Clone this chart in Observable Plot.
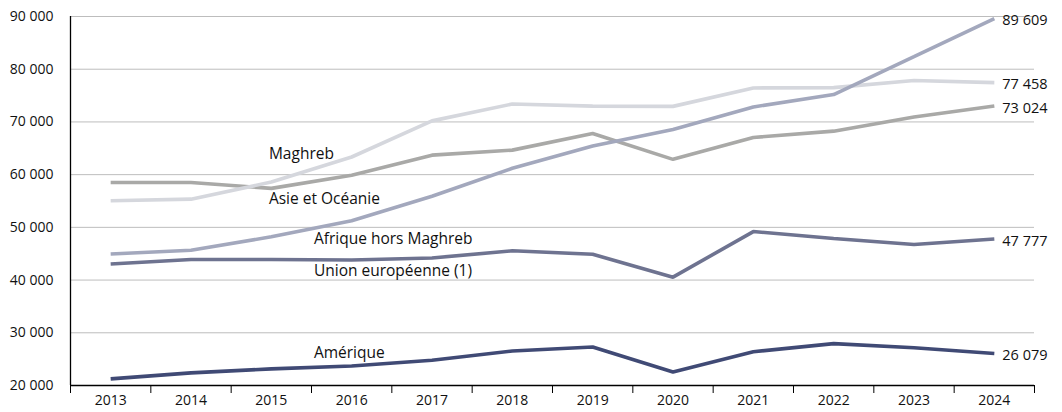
<!DOCTYPE html>
<html>
<head>
<meta charset="utf-8">
<script src="https://cdn.jsdelivr.net/npm/d3@7"></script>
<script src="https://cdn.jsdelivr.net/npm/@observablehq/plot@0.6"></script>
<style>
  html, body { margin: 0; padding: 0; background: #fff; }
  #chart svg { display: block; }
</style>
</head>
<body>
<div id="chart"></div>
<script>
const years = [2013, 2014, 2015, 2016, 2017, 2018, 2019, 2020, 2021, 2022, 2023, 2024];

const seriesNames = ["Maghreb", "Asie et Océanie", "Afrique hors Maghreb", "Union européenne (1)", "Amérique"];

const maghreb      = [58500, 58500, 57400, 59900, 63700, 64650, 67800, 62900, 67050, 68250, 70950, 73024];
const asieOceanie  = [55050, 55350, 58600, 63350, 70200, 73400, 73000, 72950, 76450, 76500, 77850, 77458];
const afriqueHors  = [44950, 45650, 48200, 51250, 55900, 61200, 65450, 68550, 72850, 75200, 82400, 89609];
const unionEuro    = [43050, 43900, 43900, 43800, 44200, 45550, 44900, 40550, 49200, 47900, 46750, 47777];
const amerique     = [21250, 22400, 23150, 23700, 24800, 26550, 27300, 22550, 26400, 27950, 27150, 26079];

const seriesColors = ["#a9a9a7", "#d5d7dd", "#a3a8bd", "#6e7390", "#404a75"];

const yTicks = [20000, 30000, 40000, 50000, 60000, 70000, 80000, 90000];

// label anchors (year, value) for the inline series names
const labelYears  = [2014.97, 2014.97, 2015.53, 2015.53, 2015.53];
const labelValues = [63900, 55400, 47750, 41700, 26250];

const allValues = [maghreb, asieOceanie, afriqueHors, unionEuro, amerique];
const data = [];
seriesNames.forEach((s, i) => years.forEach((y, j) => data.push({series: s, year: y, value: allValues[i][j]})));
const lastPoints = seriesNames.map((s, i) => ({series: s, year: years[years.length - 1], value: allValues[i][years.length - 1]}));
const labels = seriesNames.map((s, i) => ({series: s, year: labelYears[i], value: labelValues[i]}));

const fmt = n => d3.format(",")(n).replace(/,/g, " ");
const font = "'Open Sans', sans-serif";

const chart = Plot.plot({
  width: 1062,
  height: 412,
  marginLeft: 70,
  marginRight: 28,
  marginTop: 16,
  marginBottom: 27,
  style: {fontFamily: font, fontSize: "14px", color: "#111", background: "#fff"},
  x: {domain: [2012.5, 2024.5], label: null},
  y: {domain: [20000, 90000], label: null},
  color: {domain: seriesNames, range: seriesColors},
  marks: [
    Plot.ruleY(yTicks.filter(d => d > 20000), {stroke: "#bdbdbd", strokeWidth: 1}),
    Plot.axisY({ticks: yTicks, tickSize: 0, tickPadding: 17, tickFormat: fmt, fontSize: 14}),
    Plot.axisX({ticks: d3.range(2012.5, 2025, 1), tickSize: 8, tickFormat: () => "", stroke: "#000"}),
    Plot.axisX({ticks: years, tickSize: 0, tickPadding: 10, tickFormat: d => String(d), fontSize: 14}),
    Plot.ruleX([2012.5], {stroke: "#000", strokeWidth: 1.3}),
    Plot.ruleY([20000], {stroke: "#000", strokeWidth: 1.3}),
    Plot.line(data, {x: "year", y: "value", z: "series", stroke: "series", strokeWidth: 3.6, strokeLinejoin: "miter", strokeLinecap: "butt"}),
    Plot.text(lastPoints, {x: "year", y: "value", text: d => fmt(d.value), textAnchor: "start", dx: 8, dy: 2, fontSize: 14.5, fill: "#111"}),
    Plot.text(labels, {x: "year", y: "value", text: "series", textAnchor: "start", fontSize: 15.5, fill: "#111"})
  ]
});
document.getElementById("chart").appendChild(chart);
</script>
</body>
</html>
